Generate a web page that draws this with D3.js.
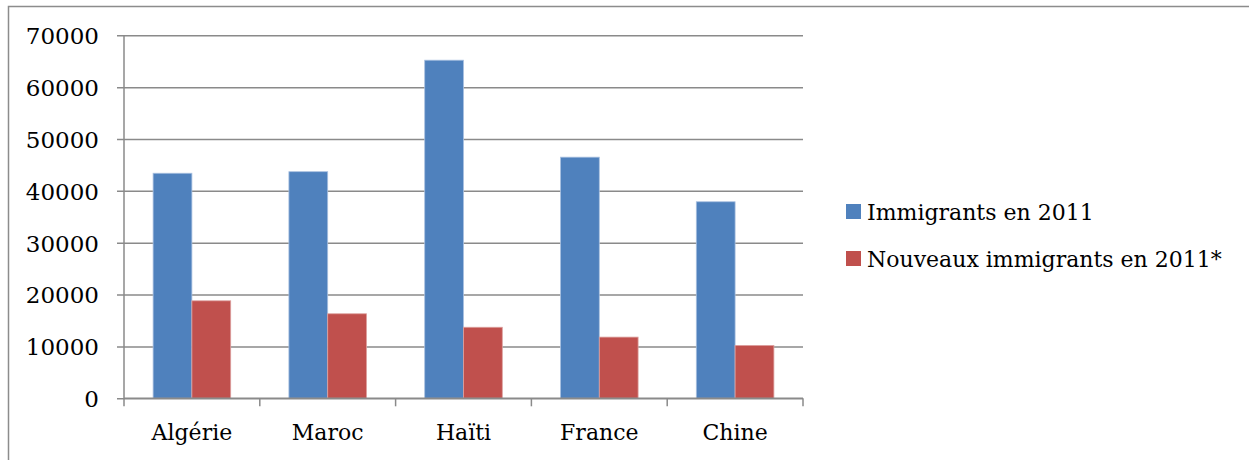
<!DOCTYPE html>
<html><head><meta charset="utf-8">
<script src="https://cdn.jsdelivr.net/npm/d3@7"></script>
<style>body{margin:0;background:#fff}svg{display:block}</style>
</head><body>
<script>
const categories = ["Algérie", "Maroc", "Haïti", "France", "Chine"];
const seriesNames = ["Immigrants en 2011", "Nouveaux immigrants en 2011*"];
const immigrants = [43400, 43700, 65200, 46500, 37900];
const nouveaux = [18800, 16300, 13700, 11800, 10200];
const yTicks = [0, 10000, 20000, 30000, 40000, 50000, 60000, 70000];
const colors = ["#4F81BD", "#C0504D"];

(function () {
const W = 1249, H = 460;
const svg = d3.select("body").append("svg").attr("width", W).attr("height", H);
const font = "'DejaVu Serif', serif";

// outer frame
svg.append("rect").attr("x", 8.5).attr("y", 6.5).attr("width", W + 20).attr("height", H + 20)
  .attr("fill", "none").attr("stroke", "#8c8c8c").attr("stroke-width", 1.5);

const pLeft = 124, pRight = 803, pTop = 35.3, pBottom = 398.3;
const x = d3.scaleBand().domain(categories).range([pLeft, pRight]);
const y = d3.scaleLinear().domain([0, 70000]).range([pBottom, pTop]);
const bw = x.bandwidth() / 3.5;
const xs = d3.scaleBand().domain([0, 1]).range([0, 2 * bw]);

// gridlines + y axis
const yAxis = d3.axisLeft(y).tickValues(yTicks).tickSize(pRight - pLeft + 7).tickFormat(d => d);
const gy = svg.append("g").attr("transform", `translate(${pRight},0)`).call(yAxis);
gy.select(".domain").remove();
gy.selectAll(".tick line").attr("stroke", "#8a8a8a").attr("stroke-width", 1.5);
gy.selectAll(".tick text").attr("x", -(pRight - pLeft) - 25).attr("dy", "0.36em")
  .attr("font-family", font).attr("font-size", 23).attr("fill", "#000");

// y axis line
svg.append("line").attr("x1", pLeft).attr("x2", pLeft).attr("y1", pTop).attr("y2", pBottom)
  .attr("stroke", "#8a8a8a").attr("stroke-width", 1.5);

// bars
const data = [immigrants, nouveaux];
data.forEach((vals, si) => {
  svg.append("g").selectAll("rect").data(vals).join("rect")
    .attr("x", (d, i) => x(categories[i]) + (x.bandwidth() - 2 * bw) / 2 + xs(si))
    .attr("width", bw)
    .attr("y", d => y(d))
    .attr("height", d => pBottom - y(d))
    .attr("fill", colors[si])
    .attr("stroke", si === 0 ? "#a9c0e0" : "#dca09e").attr("stroke-width", 0.8);
});

// x axis
const xAxis = d3.axisBottom(x).tickSize(0).tickSizeOuter(0);
const gx = svg.append("g").attr("transform", `translate(0,${pBottom})`).call(xAxis);
gx.select(".domain").remove();
gx.selectAll(".tick text").attr("y", 26).attr("dy", "0.71em").attr("font-family", font)
  .attr("font-size", 22).attr("fill", "#000");
svg.append("line").attr("x1", pLeft).attr("x2", pRight).attr("y1", pBottom).attr("y2", pBottom)
  .attr("stroke", "#8a8a8a").attr("stroke-width", 1.5);
const bounds = categories.map(c => x(c)).concat([pRight]);
svg.append("g").selectAll("line").data(bounds).join("line")
  .attr("x1", d => d).attr("x2", d => d).attr("y1", pBottom).attr("y2", pBottom + 8)
  .attr("stroke", "#8a8a8a").attr("stroke-width", 1.5);

// legend
const lg = svg.append("g");
seriesNames.forEach((n, i) => {
  const cy = 212 + i * 47;
  lg.append("rect").attr("x", 846).attr("y", cy - 8).attr("width", 15).attr("height", 15).attr("fill", colors[i]);
  lg.append("text").attr("x", 867).attr("y", cy).attr("dy", "0.36em").text(n)
    .attr("font-family", font).attr("font-size", 22).attr("fill", "#000");
});
})();
</script>
</body></html>
